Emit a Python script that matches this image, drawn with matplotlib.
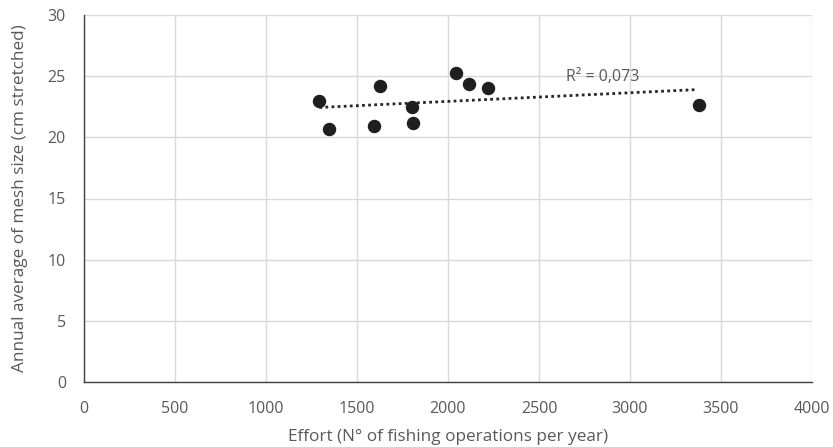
import matplotlib
matplotlib.use("Agg")
import matplotlib.pyplot as plt
import numpy as np

effort = [1293, 1344, 1628, 1592, 1800, 1806, 2042, 2117, 2222, 3377]
mesh = [23.0, 20.7, 24.2, 20.95, 22.5, 21.2, 25.25, 24.35, 24.05, 22.65]
x_ticks = [0, 500, 1000, 1500, 2000, 2500, 3000, 3500, 4000]
y_ticks = [0, 5, 10, 15, 20, 25, 30]
r2_label = "R² = 0,073"

plt.rcParams['font.family'] = ['Open Sans', 'DejaVu Sans']
txt = '#595959'

fig = plt.figure(figsize=(8.33, 4.47), dpi=100)
ax = fig.add_axes([84/833, 1-382/447, (812-84)/833, (382-15)/447])

ax.set_xlim(0, 4000)
ax.set_ylim(0, 30)
ax.set_xticks(x_ticks)
ax.set_yticks(y_ticks)
ax.grid(True, color='#d9d9d9', linewidth=1)
ax.set_axisbelow(True)
for s in ['top', 'right']:
    ax.spines[s].set_visible(False)
for s in ['left', 'bottom']:
    ax.spines[s].set_color('#404040')
    ax.spines[s].set_linewidth(1)
ax.tick_params(axis='x', length=0, labelsize=11.5, labelcolor=txt, pad=14)
ax.tick_params(axis='y', length=0, labelsize=11.5, labelcolor=txt, pad=13)

ax.scatter(effort, mesh, s=75, color='#1f1f1f', zorder=3)

coef = np.polyfit(effort, mesh, 1)
xs = np.array([min(effort), max(effort) - 20])
ax.plot(xs, np.polyval(coef, xs), linestyle=(0, (1, 1.2)), color='#262626', linewidth=2, zorder=2)

ax.text(2648, 24.95, r2_label, fontsize=11.5, color=txt, va='center', ha='left')

ax.set_xlabel("Effort (N° of fishing operations per year)", fontsize=12.3, color=txt, labelpad=8)
ax.set_ylabel("Annual average of mesh size (cm stretched)", fontsize=12.3, color=txt, labelpad=14)

fig.savefig("out.png", dpi=100)
